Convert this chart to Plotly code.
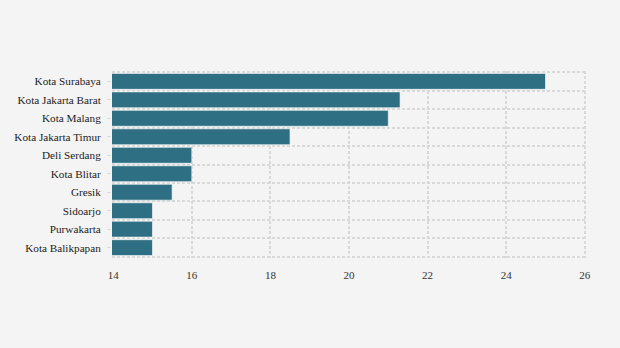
import plotly.graph_objects as go

categories = ["Kota Surabaya", "Kota Jakarta Barat", "Kota Malang", "Kota Jakarta Timur",
              "Deli Serdang", "Kota Blitar", "Gresik", "Sidoarjo", "Purwakarta", "Kota Balikpapan"]
values = [25.0, 21.3, 21.0, 18.5, 16.0, 16.0, 15.5, 15.0, 15.0, 15.0]
x_ticks = [14, 16, 18, 20, 22, 24, 26]

positions = list(range(len(categories)))
boundaries = [p - 0.5 for p in positions] + [len(categories) - 0.5]

fig = go.Figure(go.Bar(
    x=values, y=positions, orientation="h", base=0,
    marker=dict(color="#2f6f83", line=dict(color="rgba(255,255,255,0.6)", width=1)),
    width=0.86,
))

font = "Liberation Serif"
grid_col = "#d9d9d9"
fig.update_layout(
    width=620, height=348,
    margin=dict(l=112, r=34, t=71, b=90),
    paper_bgcolor="#f4f4f4", plot_bgcolor="#f4f4f4",
    font=dict(family=font, size=11, color="#333333"),
    showlegend=False,
)
fig.update_xaxes(
    range=[13.97, 26.03], tickvals=x_ticks, showgrid=True, gridcolor=grid_col, griddash="3px,2px",
    gridwidth=1.5, zeroline=False, showline=False, ticks="outside", ticklen=7,
    tickcolor="rgba(0,0,0,0)", tickfont=dict(family=font, size=11, color="#333333"),
)
fig.update_yaxes(
    range=[9.56, -0.56], tickvals=positions, ticktext=categories, showgrid=False,
    zeroline=False, showline=False, ticks="outside", ticklen=4, tickcolor="#dddddd",
    tickfont=dict(family=font, size=11.2, color="#222222"), ticklabelstandoff=4,
    minor=dict(tickmode="array", tickvals=boundaries, showgrid=True, gridcolor=grid_col,
               griddash="3px,2px", gridwidth=1.5, ticks=""),
)
fig.write_html("out.html")
